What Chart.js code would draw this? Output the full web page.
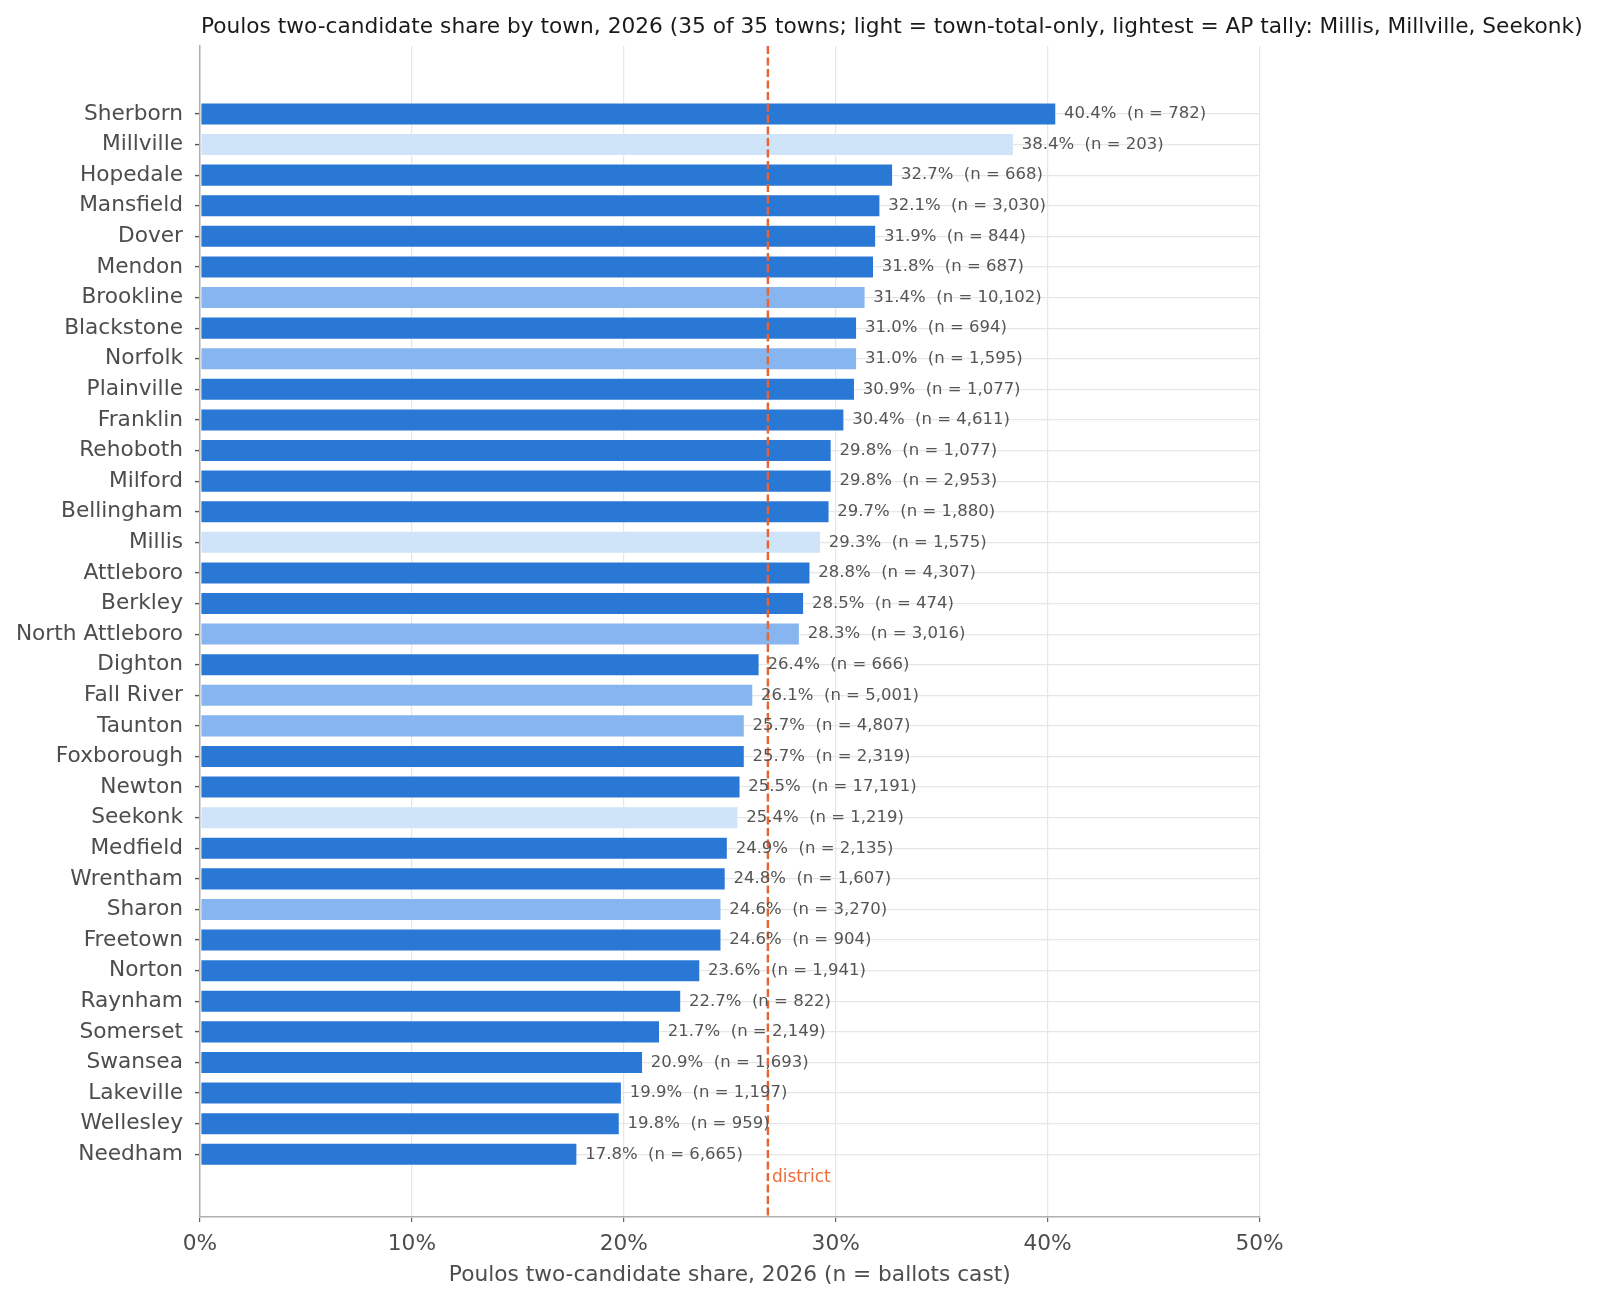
<!DOCTYPE html>
<html>
<head>
<meta charset="utf-8">
<script src="https://cdn.jsdelivr.net/npm/chart.js@4.4.1/dist/chart.umd.min.js"></script>
<style>
  html, body { margin: 0; padding: 0; background: #fff; }
  #wrap { width: 1600px; height: 1302px; position: relative; }
</style>
</head>
<body>
<div id="wrap"><canvas id="chart"></canvas></div>
<script>
// town rows, top to bottom
const towns = [
  "Sherborn", "Millville", "Hopedale", "Mansfield", "Dover", "Mendon", "Brookline",
  "Blackstone", "Norfolk", "Plainville", "Franklin", "Rehoboth", "Milford", "Bellingham",
  "Millis", "Attleboro", "Berkley", "North Attleboro", "Dighton", "Fall River", "Taunton",
  "Foxborough", "Newton", "Seekonk", "Medfield", "Wrentham", "Sharon", "Freetown",
  "Norton", "Raynham", "Somerset", "Swansea", "Lakeville", "Wellesley", "Needham"
];
const shares = [
  40.4, 38.4, 32.7, 32.1, 31.9, 31.8, 31.4,
  31.0, 31.0, 30.9, 30.4, 29.8, 29.8, 29.7,
  29.3, 28.8, 28.5, 28.3, 26.4, 26.1, 25.7,
  25.7, 25.5, 25.4, 24.9, 24.8, 24.6, 24.6,
  23.6, 22.7, 21.7, 20.9, 19.9, 19.8, 17.8
];
const ballots = [
  782, 203, 668, 3030, 844, 687, 10102,
  694, 1595, 1077, 4611, 1077, 2953, 1880,
  1575, 4307, 474, 3016, 666, 5001, 4807,
  2319, 17191, 1219, 2135, 1607, 3270, 904,
  1941, 822, 2149, 1693, 1197, 959, 6665
];
// "precinct" = full data, "total" = town-total-only, "ap" = AP tally
const sources = [
  "precinct", "ap", "precinct", "precinct", "precinct", "precinct", "total",
  "precinct", "total", "precinct", "precinct", "precinct", "precinct", "precinct",
  "ap", "precinct", "precinct", "total", "precinct", "total", "total",
  "precinct", "precinct", "ap", "precinct", "precinct", "total", "precinct",
  "precinct", "precinct", "precinct", "precinct", "precinct", "precinct", "precinct"
];
const xTickValues = [0, 10, 20, 30, 40, 50];
const districtShare = 26.8;

const titleText = "Poulos two-candidate share by town, 2026 (35 of 35 towns; light = town-total-only, lightest = AP tally: Millis, Millville, Seekonk)";
const xTitle = "Poulos two-candidate share, 2026 (n = ballots cast)";

const sourceColors = { precinct: "#2a78d6", total: "#86b5ef", ap: "#cfe3f9" };
const FONT = "'DejaVu Sans', 'Liberation Sans', sans-serif";

Chart.defaults.font.family = FONT;

const titlePlugin = {
  id: "leftTitle",
  afterDraw(chart) {
    const ctx = chart.ctx;
    ctx.save();
    ctx.font = "21.7px " + FONT;
    ctx.fillStyle = "#1a1a1a";
    ctx.textAlign = "left";
    ctx.textBaseline = "alphabetic";
    ctx.fillText(titleText, chart.chartArea.left + 1, 33);
    ctx.restore();
  }
};

const districtPlugin = {
  id: "districtLine",
  afterDatasetsDraw(chart) {
    const { ctx, chartArea, scales } = chart;
    const x = scales.x.getPixelForValue(districtShare);
    ctx.save();
    ctx.strokeStyle = "#ec6331";
    ctx.lineWidth = 2.4;
    ctx.setLineDash([8, 3.5]);
    ctx.beginPath();
    ctx.moveTo(x, chartArea.top);
    ctx.lineTo(x, chartArea.bottom);
    ctx.stroke();
    ctx.setLineDash([]);
    ctx.font = "17px " + FONT;
    ctx.fillStyle = "#f06a3a";
    ctx.textAlign = "left";
    ctx.textBaseline = "middle";
    ctx.fillText("district", x + 4, scales.y.getPixelForValue(34.75));
    ctx.restore();
  }
};

const barLabelPlugin = {
  id: "barLabels",
  afterDatasetsDraw(chart) {
    const ctx = chart.ctx;
    const meta = chart.getDatasetMeta(0);
    ctx.save();
    ctx.font = "16.5px " + FONT;
    ctx.fillStyle = "#555555";
    ctx.textAlign = "left";
    ctx.textBaseline = "middle";
    meta.data.forEach((bar, i) => {
      const txt = shares[i].toFixed(1) + "%  (n = " + ballots[i].toLocaleString("en-US") + ")";
      ctx.fillText(txt, bar.x + 8, bar.y);
    });
    ctx.restore();
  }
};

new Chart(document.getElementById("chart"), {
  type: "bar",
  data: {
    datasets: [{
      data: shares.map((v, i) => ({ x: v, y: i })),
      backgroundColor: sources.map(s => sourceColors[s]),
      borderColor: "rgba(255,255,255,0.6)",
      borderWidth: 0.8,
      borderSkipped: false,
      categoryPercentage: 1,
      barPercentage: 0.74
    }]
  },
  options: {
    indexAxis: "y",
    responsive: true,
    maintainAspectRatio: false,
    animation: false,
    layout: { padding: { top: 46, right: 340.5, left: 0, bottom: 0 } },
    plugins: {
      legend: { display: false },
      tooltip: { enabled: false }
    },
    scales: {
      x: {
        type: "linear",
        min: 0,
        max: 50,
        afterBuildTicks: (scale) => { scale.ticks = xTickValues.map(v => ({ value: v })); },
        afterFit: (scale) => { scale.height = 85; },
        ticks: {
          color: "#4d4d4d",
          font: { size: 21.7 },
          padding: 9,
          callback: (v) => v + "%"
        },
        grid: {
          color: "#e6e6e6",
          lineWidth: 1.2,
          tickColor: "#666",
          tickLength: 5,
          tickWidth: 1.2
        },
        border: { color: "#b0b0b0", width: 1.5 },
        title: {
          display: true,
          text: xTitle,
          color: "#4d4d4d",
          font: { size: 21.7 },
          padding: { top: 0, bottom: 13.5 }
        }
      },
      y: {
        type: "linear",
        reverse: true,
        offset: false,
        min: -2.22,
        max: 36.05,
        afterBuildTicks: (scale) => { scale.ticks = towns.map((_, i) => ({ value: i })); },
        afterFit: (scale) => { scale.width = 200; },
        ticks: {
          color: "#4d4d4d",
          font: { size: 21.7 },
          padding: 12,
          autoSkip: false,
          callback: (v) => towns[v]
        },
        grid: {
          offset: false,
          color: "#e6e6e6",
          lineWidth: 1.2,
          tickColor: "#555",
          tickLength: 5,
          tickWidth: 1.4
        },
        border: { color: "#b0b0b0", width: 1.5 }
      }
    }
  },
  plugins: [titlePlugin, districtPlugin, barLabelPlugin]
});
</script>
</body>
</html>
